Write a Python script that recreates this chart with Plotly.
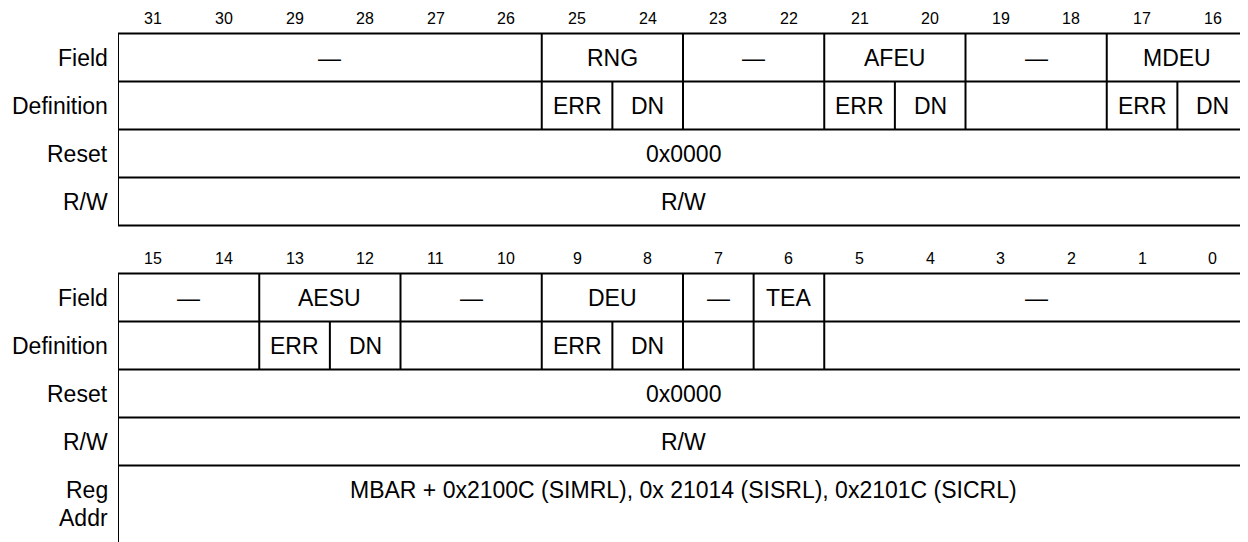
import plotly.graph_objects as go

# ---------------- data ----------------
bits_hi = list(range(31, 15, -1))
bits_lo = list(range(15, -1, -1))
row_labels = ["Field", "Definition", "Reset", "R/W"]

field_hi_names = ["—", "RNG", "—", "AFEU", "—", "MDEU"]
field_hi_msb = [31, 25, 23, 21, 19, 17]
field_hi_lsb = [26, 24, 22, 20, 18, 16]

def_hi_names = ["", "ERR", "DN", "", "ERR", "DN", "", "ERR", "DN"]
def_hi_msb = [31, 25, 24, 23, 21, 20, 19, 17, 16]
def_hi_lsb = [26, 25, 24, 22, 21, 20, 18, 17, 16]

field_lo_names = ["—", "AESU", "—", "DEU", "—", "TEA", "—"]
field_lo_msb = [15, 13, 11, 9, 7, 6, 5]
field_lo_lsb = [14, 12, 10, 8, 7, 6, 0]

def_lo_names = ["", "ERR", "DN", "", "ERR", "DN", "", "", ""]
def_lo_msb = [15, 13, 12, 11, 9, 8, 7, 6, 5]
def_lo_lsb = [14, 13, 12, 10, 9, 8, 7, 6, 0]

reset_value = "0x0000"
rw_value = "R/W"
reg_addr_label = ["Reg", "Addr"]
reg_addr_value = "MBAR + 0x2100C (SIMRL), 0x 21014 (SISRL), 0x2101C (SICRL)"

# ---------------- layout helpers ----------------
FONT = "Liberation Sans, Arial, sans-serif"
W, H = 1248, 542
PAGE_OFF = 8          # default body margin of the html page
LEFT = 118 - PAGE_OFF
NCOL = 16
COL_PX = 70.625
TOP_PX = 33.5 - PAGE_OFF
ROW_PX = 48.0
BIG = 23
SMALL = 16
LW = 2

shapes = []
annotations = []


def hline(y, x0, x1):
    shapes.append(dict(type="line", xref="x", yref="y", x0=x0, x1=x1, y0=y, y1=y,
                       line=dict(color="black", width=LW)))


def vline(x, y0, y1):
    shapes.append(dict(type="line", xref="x", yref="y", x0=x, x1=x, y0=y0, y1=y1,
                       line=dict(color="black", width=LW)))


def text(x, y, s, size=BIG, xanchor="center", xshift=0):
    annotations.append(dict(x=x, y=y, xref="x", yref="y", text=s, showarrow=False,
                            xanchor=xanchor, yanchor="middle", xshift=xshift,
                            font=dict(family=FONT, size=size, color="black")))


def draw_table(r0, bits, top_bit, fnames, fmsb, flsb, dnames, dmsb, dlsb, bottom):
    for b in bits:
        c = top_bit - b
        text(c + 0.5, r0 - 0.323, str(b), size=SMALL)
    for k in range(5):
        hline(r0 + k, 0, NCOL)
    vline(0, r0, bottom)
    for k, lab in enumerate(row_labels):
        text(0, r0 + k + 0.5, lab, xanchor="right", xshift=-8)
    for name, m, l in zip(fnames, fmsb, flsb):
        c0, c1 = top_bit - m, top_bit - l + 1
        text((c0 + c1) / 2, r0 + 0.5, name)
        if c0 > 0:
            vline(c0, r0, r0 + 1)
    for name, m, l in zip(dnames, dmsb, dlsb):
        c0, c1 = top_bit - m, top_bit - l + 1
        if name:
            text((c0 + c1) / 2, r0 + 1.5, name)
        if c0 > 0:
            vline(c0, r0 + 1, r0 + 2)
    text(NCOL / 2, r0 + 2.5, reset_value)
    text(NCOL / 2, r0 + 3.5, rw_value)


y_top = -TOP_PX / ROW_PX
y_bot = (H - TOP_PX) / ROW_PX
x_max = (W - LEFT) / COL_PX

draw_table(0, bits_hi, 31, field_hi_names, field_hi_msb, field_hi_lsb,
           def_hi_names, def_hi_msb, def_hi_lsb, 4)
draw_table(5, bits_lo, 15, field_lo_names, field_lo_msb, field_lo_lsb,
           def_lo_names, def_lo_msb, def_lo_lsb, y_bot + 1)

# Reg Addr row
text(0, 9.51, reg_addr_label[0], xanchor="right", xshift=-8)
text(0, 10.09, reg_addr_label[1], xanchor="right", xshift=-8)
text(NCOL / 2, 9.5, reg_addr_value)

fig = go.Figure()
fig.add_trace(go.Scatter(x=[0, NCOL], y=[0, 0], mode="markers",
                         marker=dict(opacity=0), hoverinfo="skip", showlegend=False))
fig.update_layout(
    width=W, height=H,
    margin=dict(l=LEFT, r=0, t=0, b=0),
    paper_bgcolor="white", plot_bgcolor="white",
    xaxis=dict(range=[0, x_max], visible=False, fixedrange=True),
    yaxis=dict(range=[y_bot, y_top], visible=False, fixedrange=True),
    shapes=shapes, annotations=annotations, showlegend=False,
)
fig.write_html("out.html")
